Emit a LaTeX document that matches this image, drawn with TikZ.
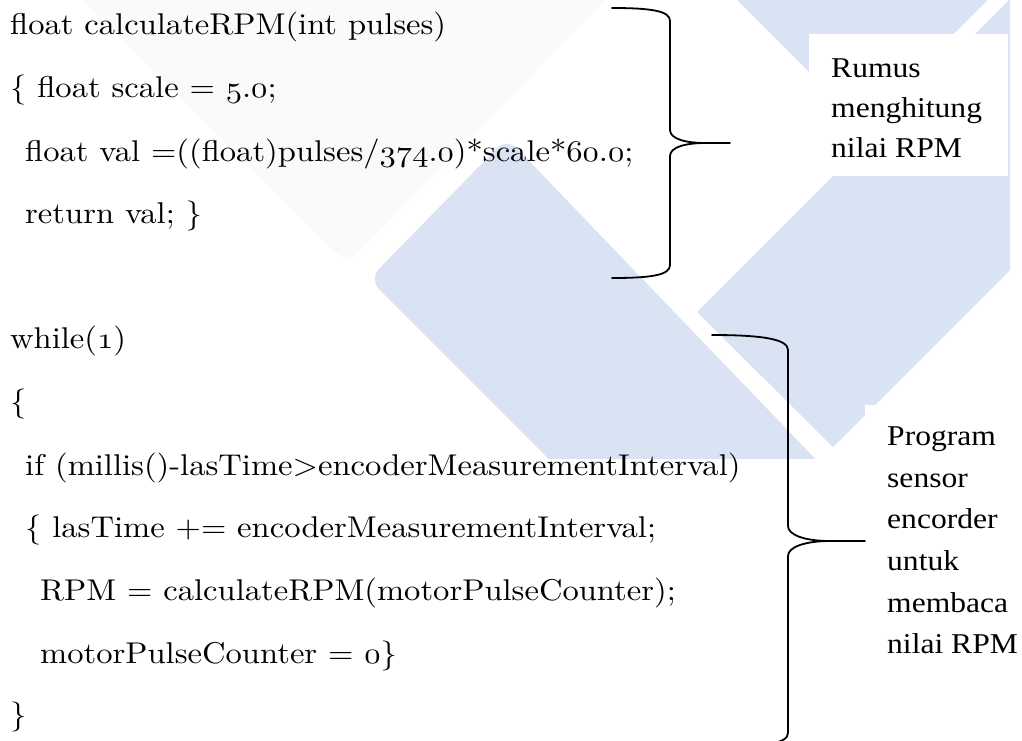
\documentclass[tikz,border=0pt]{standalone}
\usepackage{fontspec}
\newfontfamily\labfont{Liberation Serif}
\newcommand\os[1]{\legacyoldstylenums{#1}}
\newcommand\cx[1]{\scalebox{3.26}[3.0]{#1}}
\newcommand\lx[1]{\scalebox{1.10}[1]{#1}}
\definecolor{wmblue}{RGB}{218,227,243}
\definecolor{wmgray}{RGB}{250,250,250}
\begin{document}
\begin{tikzpicture}[x=1pt,y=-1pt,
  code/.style={anchor=base west, inner sep=0pt, font=\fontsize{10}{10}\selectfont\addfontfeatures{FakeBold=0.6}},
  lab/.style={anchor=base west, inner sep=0pt, font=\labfont\fontsize{28.7}{28.7}\selectfont},
  bracepath/.style={draw=black, line width=1.8pt, line join=round, line cap=round}]
\useasboundingbox (0,0) rectangle (1022,740);
\clip (0,0) rectangle (1022,740);
\fill[white] (0,0) rectangle (1022,740);
% watermark
\begin{scope}
  \clip (0,0) rectangle (1010,458);
  \fill[wmgray, rounded corners=14pt] (347,263) -- (660,-55) -- (29,-55) -- cycle;
  \fill[wmblue, rounded corners=14pt] (369,279) -- (507,138) -- (874,520) -- (610,520) -- cycle;
  \fill[wmblue] (697,312) -- (1060,-51) -- (1100,-51) -- (1100,180) -- (833,447) -- cycle;
  \fill[wmblue] (687,-50) -- (862,125) -- (1038,-50) -- cycle;
\end{scope}
% label backgrounds
\fill[white] (809,34) rectangle (1008,176);
\fill[white] (865,405) rectangle (1022,740);
% code
\node[code] (c1) at (10,34) {\cx{float calculateRPM(int pulses)}};
\node[code] (c2) at (10,97) {\cx{\{ float scale = \os{5}.\os{0};}};
\node[code] (c3) at (25,161) {\cx{float val =((float)pulses/\os{374}.\os{0})*scale*\os{60}.\os{0};}};
\node[code] (c4) at (25,223) {\cx{return val; \}}};
\node[code] (c5) at (10,348) {\cx{while(\os{1})}};
\node[code] (c6) at (10,411) {\cx{\{}};
\node[code] (c7) at (25,475) {\cx{if (millis()-lasTime>encoderMeasurementInterval)}};
\node[code] (c8) at (25,537) {\cx{\{ lasTime += encoderMeasurementInterval;}};
\node[code] (c9) at (40,600) {\cx{RPM = calculateRPM(motorPulseCounter);}};
\node[code] (c10) at (40,663) {\cx{motorPulseCounter = \os{0}\}}};
\node[code] (c11) at (10,724) {\cx{\}}};
% labels
\node[lab] (r1) at (831,77) {\lx{Rumus}};
\node[lab] (r2) at (831,117) {\lx{menghitung}};
\node[lab] (r3) at (831,157) {\lx{nilai RPM}};
\node[lab] (p1) at (887,445) {\lx{Program}};
\node[lab] (p2) at (887,487) {\lx{sensor}};
\node[lab] (p3) at (887,528) {\lx{encorder}};
\node[lab] (p4) at (887,570) {\lx{untuk}};
\node[lab] (p5) at (887,612) {\lx{membaca}};
\node[lab] (p6) at (887,653) {\lx{nilai RPM}};
% braces
\coordinate (b1tip) at (730,143);
\coordinate (b2tip) at (865,541);
\draw[bracepath] (612,8) .. controls (652,8) and (670,11) .. (670,21) -- (670,130)
  .. controls (670,139) and (686,143) .. (705,143) -- (b1tip);
\draw[bracepath] (705,143) .. controls (686,143) and (670,147) .. (670,156) -- (670,265)
  .. controls (670,275) and (652,278) .. (612,278);
\draw[bracepath] (712,335) .. controls (762,335) and (788,339) .. (788,350) -- (788,526)
  .. controls (788,535) and (805,541) .. (830,541) -- (b2tip);
\draw[bracepath] (830,541) .. controls (805,541) and (788,547) .. (788,556) -- (788,733)
  .. controls (788,744) and (762,747) .. (712,747);
\end{tikzpicture}
\end{document}
